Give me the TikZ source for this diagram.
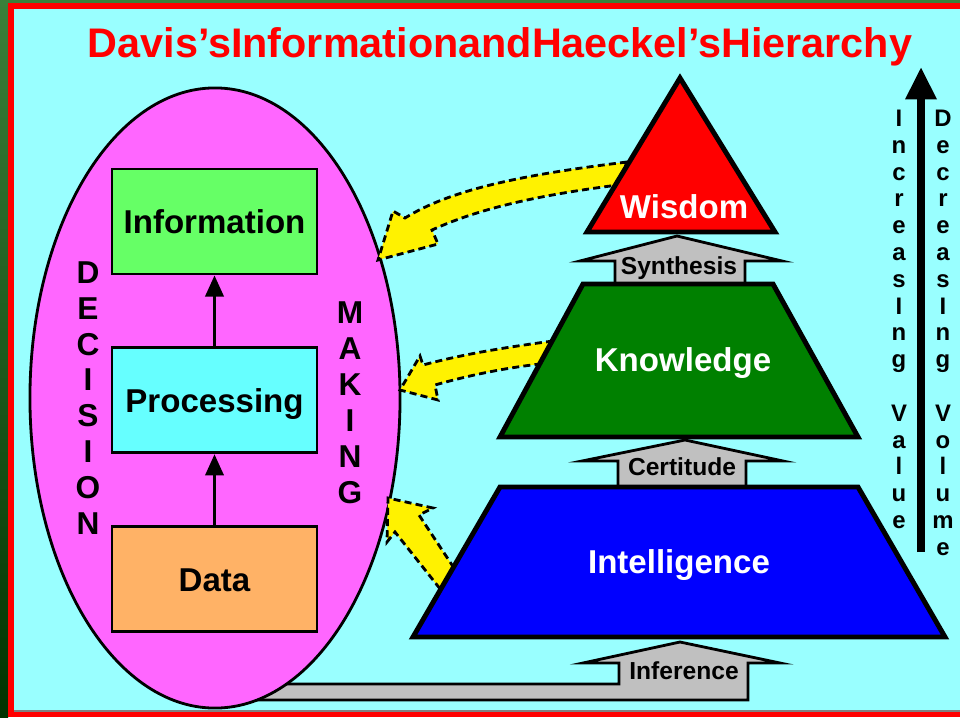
\documentclass[tikz,border=0pt]{standalone}
\usepackage{fontspec}
\setmainfont{Liberation Sans}
\usetikzlibrary{arrows.meta}
\usetikzlibrary{positioning}
\usetikzlibrary{shapes.geometric}
\definecolor{skyback}{RGB}{153,255,255}
\definecolor{framegreen}{RGB}{58,128,58}
\definecolor{framedark}{RGB}{0,51,0}
\definecolor{pinkfill}{RGB}{255,102,255}
\definecolor{infogreen}{RGB}{102,255,102}
\definecolor{proccyan}{RGB}{102,255,255}
\definecolor{dataorange}{RGB}{255,178,102}
\definecolor{knowgreen}{RGB}{0,128,0}
\definecolor{arrowgray}{RGB}{192,192,192}
\newcommand{\lblfont}{\fontsize{23.5}{28}\selectfont\bfseries}
\newcommand{\smlfont}{\fontsize{17.5}{21}\selectfont\bfseries}
\newcommand{\ltrfont}{\fontsize{17}{20}\selectfont\bfseries}
\newcommand{\decfont}{\fontsize{22.5}{26}\selectfont\bfseries}
\newcommand{\ttlfont}{\fontsize{29.4}{34}\selectfont\bfseries}

\begin{document}
\begin{tikzpicture}[x=0.025cm,y=-0.025cm,
  box/.style={draw,line width=2pt,minimum width=5.125cm,minimum height=2.625cm,inner sep=0pt,text height=16.8pt,text depth=0pt,font=\lblfont},
  flow/.style={line width=2pt,-{Triangle[length=15pt,width=13pt]}},
  level/.style={draw,line width=3.5pt,line join=miter},
  levellabel/.style={text=white,font=\lblfont,inner sep=0pt,text height=16.8pt,text depth=0pt},
  steplabel/.style={font=\smlfont,inner sep=0pt,text height=12.5pt,text depth=0pt},
  grayarrow/.style={fill=arrowgray,draw,line width=2pt,line join=miter},
  yarrow/.style={fill=yellow,draw,line width=2pt,line join=miter,dash pattern=on 5pt off 3pt}]
\useasboundingbox (0,0) rectangle (960,717);
\fill[skyback] (0,0) rectangle (960,717);
\shade[top color=framegreen,middle color=framegreen!80!black,bottom color=framedark] (0,0) rectangle (8,717);
\fill[framegreen] (0,0) rectangle (960,3);
\fill[red] (8,3) rectangle (14,717);
\fill[red] (8,3) rectangle (960,9);
\fill[gray] (14,710) rectangle (960,712);
\fill[red] (8,712) rectangle (960,717);

\node (title) [anchor=base,inner sep=0pt,text=red,font=\ttlfont] at (500,57) {Davis’sInformationandHaeckel’sHierarchy};

\draw[grayarrow] (200,684) -- (619,684) -- (619,663) -- (583,663) -- (680,642) -- (780,663) -- (748,663) -- (748,700) -- (200,700);
\node (infer) [steplabel] at (684,671) {Inference};

\node (dm) [ellipse,draw,line width=2pt,fill=pinkfill,minimum width=9.25cm,minimum height=15.5cm,inner sep=0pt] at (215,398) {};
\node (info) [box,fill=infogreen] at (214.5,221.5) {Information};
\node (proc) [box,fill=proccyan,below=1.775cm of info] {Processing};
\node (data) [box,fill=dataorange,below=1.775cm of proc] {Data};
\draw[flow] (data) -- (proc);
\draw[flow] (proc) -- (info);

\foreach \ch [count=\i from 0] in {D,E,C,I,S,I,O,N}
  \node (dec\i) [anchor=base,inner sep=0pt,font=\decfont] at (88,283.5+35.8*\i) {\ch};
\foreach \ch [count=\i from 0] in {M,A,K,I,N,G}
  \node (mak\i) [anchor=base,inner sep=0pt,font=\decfont] at (350,323.5+36*\i) {\ch};

\draw[yarrow] (627,162) .. controls (520,175) and (450,190) .. (405,218) -- (393,211) -- (378,260) -- (438,244) -- (432,230) .. controls (480,208) and (540,195) .. (618,185) -- cycle;
\draw[yarrow] (553,341) .. controls (500,348) and (460,355) .. (423,365) -- (420,356) -- (400,390) -- (438,400) -- (435,385) .. controls (470,375) and (505,368) .. (540,364) -- cycle;
\draw[yarrow] (454,568) -- (419,515) -- (433,508) -- (388,498) -- (387,542) -- (395,532) -- (441,590) -- cycle;

\draw[grayarrow] (615,284) -- (615,261) -- (580,261) -- (677,236) -- (782,261) -- (745,261) -- (745,284);
\draw[grayarrow] (618,488) -- (618,461) -- (582,461) -- (685,440) -- (783,461) -- (746,461) -- (746,488);
\node (synth) [steplabel] at (679,266) {Synthesis};
\node (cert) [steplabel] at (682,467) {Certitude};

\draw[level,fill=red] (680,78) -- (775,232) -- (587,232) -- cycle;
\draw[level,fill=knowgreen] (583,284) -- (773,284) -- (858,437) -- (500,437) -- cycle;
\draw[level,fill=blue] (500,487) -- (858,487) -- (945,637) -- (413,637) -- cycle;
\node (wis) [levellabel] at (684,207) {Wisdom};
\node (know) [levellabel] at (683,360) {Knowledge};
\node (intel) [levellabel] at (679,562) {Intelligence};

\coordinate (scalebot) at (921,552);
\coordinate (scaletop) at (921,67);
\draw[line width=5.5pt,-{Triangle[length=23pt,width=21pt]}] (scalebot) -- (scaletop);
\foreach \ch [count=\i from 0] in {I,n,c,r,e,a,s,I,n,g,{},V,a,l,u,e}
  \node (inc\i) [anchor=base,inner sep=0pt,font=\ltrfont] at (899,126.5+26.8*\i) {\ch};
\foreach \ch [count=\i from 0] in {D,e,c,r,e,a,s,I,n,g,{},V,o,l,u,m,e}
  \node (decr\i) [anchor=base,inner sep=0pt,font=\ltrfont] at (943,126.5+26.8*\i) {\ch};
\end{tikzpicture}
\end{document}
